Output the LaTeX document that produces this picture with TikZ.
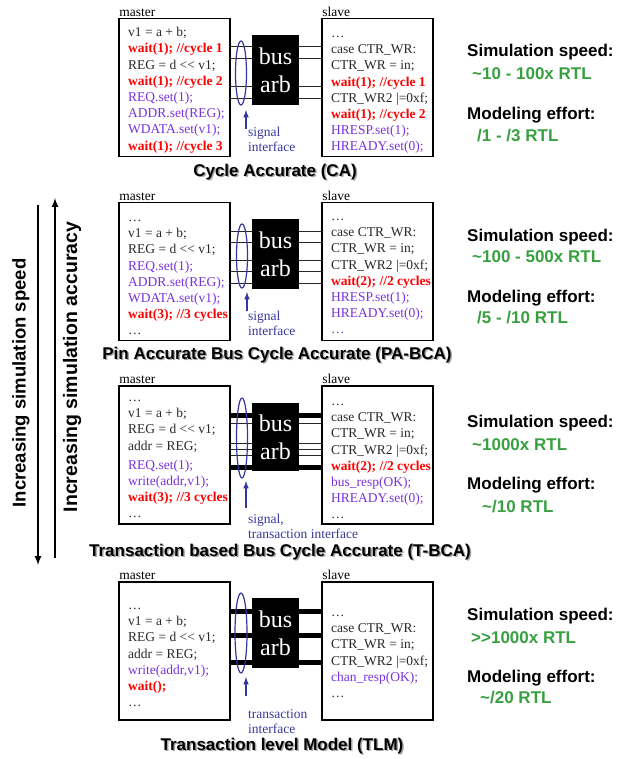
\documentclass[tikz,border=0pt]{standalone}
\usepackage{fontspec}
\setmainfont{Liberation Serif}
\setsansfont{Liberation Sans}
\usetikzlibrary{shapes,arrows}
\definecolor{codered}{RGB}{255,0,0}
\definecolor{codeviolet}{RGB}{120,50,220}
\definecolor{ifblue}{RGB}{55,55,155}
\definecolor{effgreen}{RGB}{56,160,64}
\definecolor{codegray}{RGB}{40,40,40}
\tikzstyle{module}=[draw, line width=1.5pt, minimum width=111pt, minimum height=138pt, inner sep=0pt]
\tikzstyle{modname}=[anchor=south west, inner sep=1pt, font=\fontsize{13.5}{15}\selectfont]
\tikzstyle{code}=[anchor=north west, inner sep=0pt, align=left, text=codegray,
                  font=\fontsize{13.5}{16.2}\selectfont]
\tikzstyle{arb}=[fill=black, text=white, minimum width=47pt, minimum height=70pt,
                 align=center, inner sep=0pt, font=\fontsize{24}{28}\selectfont]
\tikzstyle{bus}=[line width=1pt, black!85]
\tikzstyle{tbus}=[line width=5pt]
\tikzstyle{ring}=[ellipse, draw=ifblue, line width=1.2pt, minimum width=11pt, inner sep=0pt]
\tikzstyle{ifarrow}=[->, >=latex, ifblue, line width=1.5pt]
\tikzstyle{iflabel}=[anchor=north west, inner sep=0pt, align=left, text=ifblue,
                     font=\fontsize{13.5}{15}\selectfont]
\tikzstyle{paneltitle}=[inner sep=0pt, font=\sffamily\bfseries\fontsize{17}{20}\selectfont]
\tikzstyle{titleshadow}=[paneltitle, text=black!35]
\tikzstyle{metric}=[anchor=west, inner sep=0pt, font=\sffamily\bfseries\fontsize{17}{20}\selectfont]
\tikzstyle{metricval}=[metric, text=effgreen]
\tikzstyle{trendlabel}=[inner sep=0pt, rotate=90, font=\sffamily\bfseries\fontsize{18.5}{22}\selectfont]
\tikzstyle{trend}=[->, >=latex, line width=2pt]
\newcommand{\waitln}[1]{\textcolor{codered}{\bfseries #1}}
\newcommand{\sigln}[1]{\textcolor{codeviolet}{#1}}

\begin{document}
\begin{tikzpicture}[x=1pt,y=-1pt]
    \useasboundingbox (0,0) rectangle (626,759);

    % cycle accurate
    \node[module] (mst1) at (174.5,87.5) {};
    \node[module, right of=mst1, node distance=203pt] (slv1) {};
    \node[modname] (mlab1) at (mst1.north west) {master};
    \node[modname] (slab1) at (slv1.north west) {slave};
    \node[code] (mcode1) at (128,25.2) {\strut v1 = a + b;\\ \waitln{wait(1); //cycle 1}\\ REG = d <{}< v1;\\
        \waitln{wait(1); //cycle 2}\\ \sigln{REQ.set(1);}\\ \sigln{ADDR.set(REG);}\\ \sigln{WDATA.set(v1);}\\
        \waitln{wait(1); //cycle 3}};
    \node[code] (scode1) at (331,26) {\strut \dots\\ case CTR\_WR:\\ CTR\_WR = in;\\ \waitln{wait(1); //cycle 1}\\
        CTR\_WR2 |=0xf;\\ \waitln{wait(1); //cycle 2}\\ \sigln{HRESP.set(1);}\\ \sigln{HREADY.set(0);}};
    \foreach \y in {47,59,87,99}
        \draw[bus] (mst1.east |- 0,\y) -- (slv1.west |- 0,\y);
    \node[arb] (arb1) at (275.5,70.5) {bus\\arb};
    \node[ring, minimum height=64pt] (ring1) at (241,73) {};
    \coordinate (tail1) at (246,129);
    \coordinate (tip1) at (246,110);
    \draw[ifarrow] (tail1) -- (tip1);
    \node[iflabel] (if1) at (248,126) {\strut signal\\interface};
    \node[titleshadow] (shd1) at (276.5,173.5) {Cycle Accurate (CA)};
    \node[paneltitle] (ttl1) at (275,172) {Cycle Accurate (CA)};
    \node[metric] (spd1) at (467,52) {Simulation speed:};
    \node[metricval] (spv1) at (472,74) {\textasciitilde10 - 100x RTL};
    \node[metric] (eff1) at (467,115) {Modeling effort:};
    \node[metricval] (efv1) at (477,136) {/1 - /3 RTL};

    % pin accurate bus cycle accurate
    \node[module] (mst2) at (174.5,271.5) {};
    \node[module, right of=mst2, node distance=203pt] (slv2) {};
    \node[modname] (mlab2) at (mst2.north west) {master};
    \node[modname] (slab2) at (slv2.north west) {slave};
    \node[code] (mcode2) at (128,210) {\strut \dots\\ v1 = a + b;\\ REG = d <{}< v1;\\ \sigln{REQ.set(1);}\\
        \sigln{ADDR.set(REG);}\\ \sigln{WDATA.set(v1);}\\ \waitln{wait(3); //3 cycles}\\ \dots};
    \node[code] (scode2) at (331,209) {\strut \dots\\ case CTR\_WR:\\ CTR\_WR = in;\\ CTR\_WR2 |=0xf;\\
        \waitln{wait(2); //2 cycles}\\ \sigln{HRESP.set(1);}\\ \sigln{HREADY.set(0);}\\ \sigln{\dots}};
    \foreach \y in {231,242,260,271,283}
        \draw[bus] (mst2.east |- 0,\y) -- (slv2.west |- 0,\y);
    \node[arb] (arb2) at (275.5,254) {bus\\arb};
    \node[ring, minimum height=64pt] (ring2) at (242,256) {};
    \coordinate (tail2) at (247,311);
    \coordinate (tip2) at (247,292);
    \draw[ifarrow] (tail2) -- (tip2);
    \node[iflabel] (if2) at (248,310) {\strut signal\\interface};
    \node[titleshadow] (shd2) at (278.5,356.5) {Pin Accurate Bus Cycle Accurate (PA-BCA)};
    \node[paneltitle] (ttl2) at (277,355) {Pin Accurate Bus Cycle Accurate (PA-BCA)};
    \node[metric] (spd2) at (467,237) {Simulation speed:};
    \node[metricval] (spv2) at (472,257) {\textasciitilde100 - 500x RTL};
    \node[metric] (eff2) at (467,298) {Modeling effort:};
    \node[metricval] (efv2) at (477,318) {/5 - /10 RTL};

    % transaction based bus cycle accurate
    \node[module] (mst3) at (174.5,455) {};
    \node[module, right of=mst3, node distance=203pt] (slv3) {};
    \node[modname] (mlab3) at (mst3.north west) {master};
    \node[modname] (slab3) at (slv3.north west) {slave};
    \node[code] (mcode3) at (128,390) {\strut \dots\\ v1 = a + b;\\ REG = d <{}< v1;\\ addr = REG;\\[3pt]
        \sigln{REQ.set(1);}\\ \sigln{write(addr,v1);}\\ \waitln{wait(3); //3 cycles}\\ \dots};
    \node[code] (scode3) at (331,394) {\strut \dots\\ case CTR\_WR:\\ CTR\_WR = in;\\ CTR\_WR2 |=0xf;\\
        \waitln{wait(2); //2 cycles}\\ \sigln{bus\_resp(OK);}\\ \sigln{HREADY.set(0);}\\ \dots};
    \foreach \y in {423,443,449,455}
        \draw[bus] (mst3.east |- 0,\y) -- (slv3.west |- 0,\y);
    \foreach \y in {415,467}
        \draw[tbus] (mst3.east |- 0,\y) -- (slv3.west |- 0,\y);
    \node[arb, minimum height=68pt] (arb3) at (275.5,437) {bus\\arb};
    \node[ring, minimum height=80pt] (ring3) at (242,438) {};
    \coordinate (tail3) at (246,508);
    \coordinate (tip3) at (246,481);
    \draw[ifarrow] (tail3) -- (tip3);
    \node[iflabel] (if3) at (248,513) {\strut signal,\\transaction interface};
    \node[titleshadow] (shd3) at (281.5,553.5) {Transaction based Bus Cycle Accurate (T-BCA)};
    \node[paneltitle] (ttl3) at (280,552) {Transaction based Bus Cycle Accurate (T-BCA)};
    \node[metric] (spd3) at (467,423) {Simulation speed:};
    \node[metricval] (spv3) at (472,445) {\textasciitilde1000x RTL};
    \node[metric] (eff3) at (467,485) {Modeling effort:};
    \node[metricval] (efv3) at (482,507) {\textasciitilde/10 RTL};

    % transaction level model
    \node[module] (mst4) at (174.5,651) {};
    \node[module, right of=mst4, node distance=203pt] (slv4) {};
    \node[modname] (mlab4) at (mst4.north west) {master};
    \node[modname] (slab4) at (slv4.north west) {slave};
    \node[code] (mcode4) at (128,598) {\strut \dots\\ v1 = a + b;\\ REG = d <{}< v1;\\ addr = REG;\\
        \sigln{write(addr,v1);}\\ \waitln{wait();}\\ \dots};
    \node[code] (scode4) at (331,605) {\strut \dots\\ case CTR\_WR:\\ CTR\_WR = in;\\ CTR\_WR2 |=0xf;\\
        \sigln{chan\_resp(OK);}\\ \dots};
    \foreach \y in {611,635,662}
        \draw[tbus] (mst4.east |- 0,\y) -- (slv4.west |- 0,\y);
    \node[arb] (arb4) at (275.5,633) {bus\\arb};
    \node[ring, minimum height=80pt, minimum width=12pt] (ring4) at (241,633) {};
    \coordinate (tail4) at (246,696);
    \coordinate (tip4) at (246,677);
    \draw[ifarrow] (tail4) -- (tip4);
    \node[iflabel] (if4) at (248,708) {\strut transaction\\interface};
    \node[titleshadow] (shd4) at (283.5,747.5) {Transaction level Model (TLM)};
    \node[paneltitle] (ttl4) at (282,746) {Transaction level Model (TLM)};
    \node[metric] (spd4) at (467,616) {Simulation speed:};
    \node[metricval] (spv4) at (471,638) {{>}{>}1000x RTL};
    \node[metric] (eff4) at (467,678) {Modeling effort:};
    \node[metricval] (efv4) at (480,698) {\textasciitilde/20 RTL};

    % trends
    \node[trendlabel] (spdtrend) at (21,383) {Increasing simulation speed};
    \node[trendlabel, font=\sffamily\bfseries\fontsize{19.5}{23}\selectfont] (acctrend) at (72,367) {Increasing simulation accuracy};
    \coordinate (spdtop) at (38,205);
    \coordinate (spdbot) at (38,565);
    \coordinate (acctop) at (55,198);
    \coordinate (accbot) at (55,558);
    \draw[trend] (spdtop) -- (spdbot);
    \draw[trend] (accbot) -- (acctop);
\end{tikzpicture}
\end{document}
